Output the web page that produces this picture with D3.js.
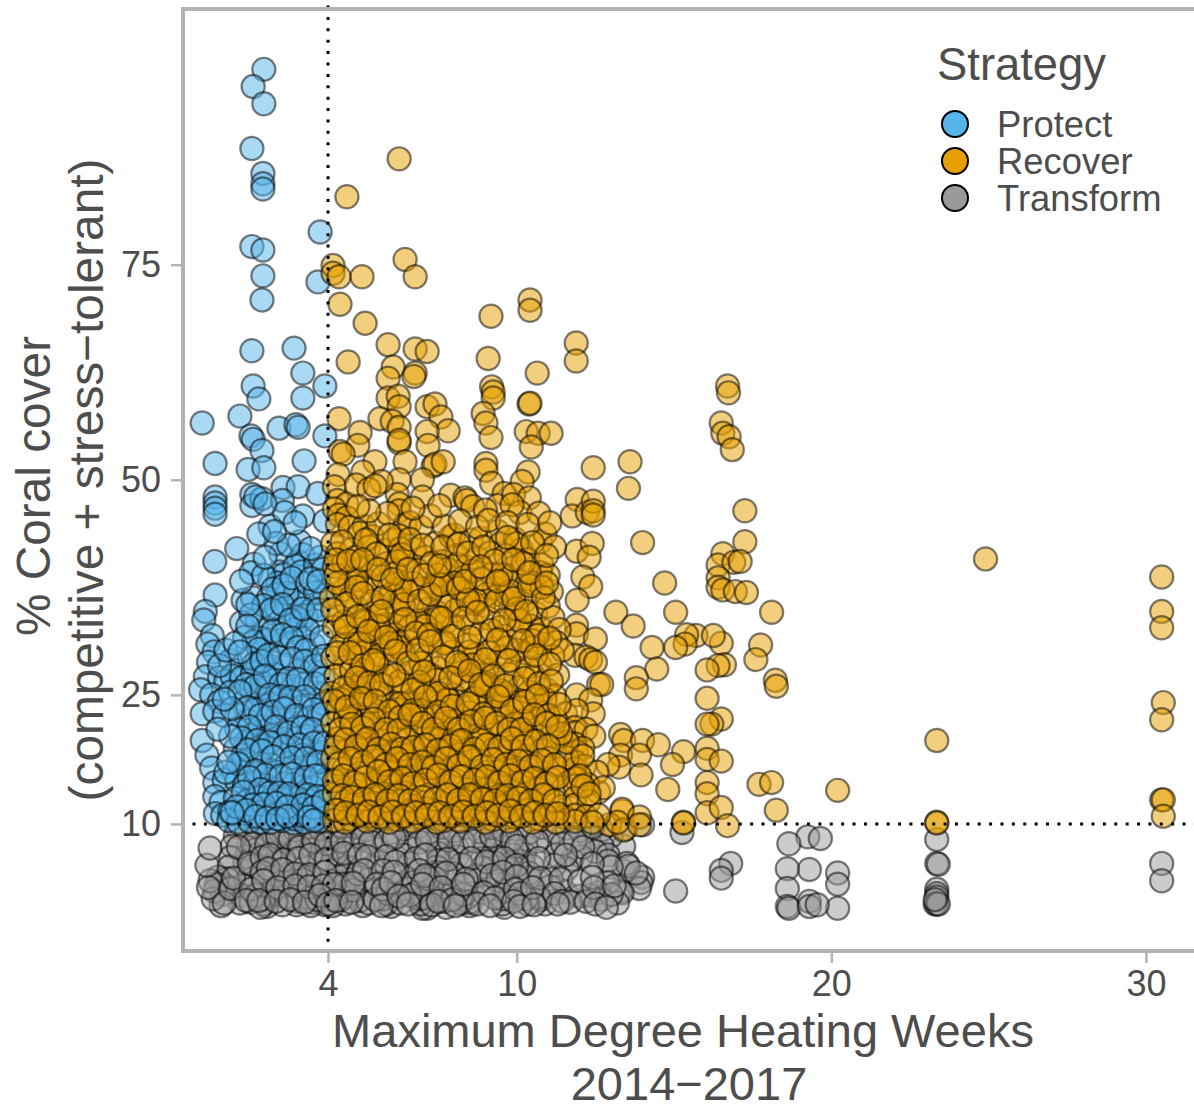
<!DOCTYPE html>
<html>
<head>
<meta charset="utf-8">
<script src="https://cdn.jsdelivr.net/npm/d3@7"></script>
<style>
  html, body { margin: 0; padding: 0; background: #fff; }
  svg { display: block; }
  text { font-family: "Liberation Sans", Arial, sans-serif; fill: #4d4d4d; }
</style>
</head>
<body>
<div id="chart"></div>
<script>
// DATA, [max DHW, % coral cover]
var strategies = ["Protect", "Recover", "Transform"];
var xTicks = [4, 10, 20, 30];
var yTicks = [10, 25, 50, 75];

var protect = [
[1.96,97.7],[1.62,95.7],[1.96,93.7],[1.58,88.5],[1.93,85.6],[1.93,84.4],[1.93,83.8],[3.75,78.8],[1.58,77.1],[1.93,76.7],[1.93,73.7],[1.9,70.9],[3.68,73.0],
[1.58,65.0],[2.92,65.3],[3.2,62.4],[1.62,60.9],[3.9,60.9],[1.8,59.4],[3.2,59.5],[1.2,57.4],[0.0,56.6],[2.44,56.0],[2.98,56.4],[3.05,56.1],[1.55,55.1],[1.62,54.7],[1.9,53.4],[3.9,55.1],
[0.41,51.9],[1.46,51.2],[1.96,51.4],[3.24,52.2],[0.41,48.0],[0.41,47.3],[0.41,46.7],[0.41,46.0],[2.57,49.1],[3.05,49.2],[3.68,48.4],[1.58,48.3],[1.58,47.0],[1.9,47.8],[2.16,44.6],[2.55,47.6],[2.62,46.2],[3.2,45.8],[3.9,45.2],[1.7,48.0],[2.0,47.2],
[0.4,40.5],[1.1,42.0],[2.5,41.4],[3.05,40.5],[1.65,40.2],[1.55,39.2],[2.15,38.4],[2.45,39.3],[2.6,39.0],[3.1,42.8],[3.2,41.3],[2.95,40.0],[3.15,39.3],
[0.41,36.6],[1.3,36.0],[1.6,36.3],[2.4,38.0],[2.4,36.7],[2.1,36.2],[2.75,34.8],[3.3,36.1],[3.85,37.1],[3.9,36.6],[3.1,35.8],[2.95,36.7],[3.5,35.0],[0.1,34.7],[0.05,33.7],[1.25,33.4],[1.75,33.6],[2.3,34.4],[2.6,33.3],[3.15,33.7],[3.3,34.2],
[0.32,31.9],[0.18,30.9],[0.38,30.0],[0.2,28.8],[0.9,29.0],[1.1,27.8],[0.1,27.1],[0.55,27.0],[0.75,26.6],[0.95,27.2],[1.25,27.0],[1.75,29.0],[1.85,29.8],[1.95,28.3],[2.4,31.3],[2.7,30.8],[2.95,32.6],[3.2,31.6],[3.55,30.8],[3.45,29.0],[2.2,28.3],[2.65,28.5],[3.1,27.8],[3.7,27.6],[1.6,27.5],[2.2,26.7],[2.9,26.0],
[-0.05,25.6],[0.3,25.0],[0.55,24.2],[0.9,25.3],[1.35,24.3],[1.55,25.7],[1.8,25.0],[2.05,25.8],[2.2,24.8],[3.0,25.7],[3.5,24.5],[3.75,25.2],[1.95,23.8],[2.4,24.0],[3.15,23.6],[0.0,22.8],[0.4,23.1],[0.7,22.6],[1.2,22.6],[1.45,22.0],[1.7,23.3],[2.55,22.0],[2.85,21.7],[3.4,22.4],[3.65,22.2],
[1.1,21.0],[1.65,20.4],[1.85,21.3],[2.1,20.9],[2.25,20.2],[2.6,19.9],[3.05,20.0],[3.35,20.2],[3.85,20.2],[1.4,19.5],[2.0,19.1],[2.9,18.8],[0.0,19.7],[0.15,18.0],[0.3,16.5],[1.05,18.7],[1.6,18.3],[2.45,18.2],[3.2,18.0],[3.6,18.1],[3.85,18.3],
[1.3,17.2],[1.55,16.4],[1.85,17.0],[2.15,16.3],[2.7,17.0],[3.05,16.2],[3.45,16.6],[3.8,15.6],[3.9,15.1],[1.0,15.9],[2.35,16.0],[0.4,14.8],[0.7,15.1],[1.1,15.0],[1.35,14.6],[1.7,14.8],[2.0,14.5],[2.3,14.0],[2.6,14.7],[2.9,14.6],[3.2,14.3],[3.55,14.2],[3.8,14.8],
[0.4,13.2],[0.6,12.5],[1.05,13.0],[1.45,12.7],[1.75,13.1],[2.15,12.7],[2.55,12.9],[3.05,13.0],[3.45,12.6],[3.75,12.4],[0.42,11.2],[0.65,11.0],[0.88,11.4],[1.25,11.2],[1.55,11.0],[1.9,11.4],[2.2,11.0],[2.5,11.3],[2.85,11.1],[3.0,11.4],[3.3,11.2],[3.6,11.0],[3.85,11.3],
[0.85,10.4],[1.15,10.2],[1.5,10.3],[1.85,10.2],[2.2,10.2],[2.55,10.4],[2.9,10.1],[2.95,10.6],[3.25,10.2],[3.7,10.3],[3.0,11.9],[3.1,11.0],[1.3,18.0],[2.35,19.4],[2.75,23.6],[2.1,22.4],[1.9,26.4],[2.3,27.4],[3.3,26.4],[2.0,32.6],[2.1,31.4],[1.85,31.6],[2.7,36.8],[2.35,35.2],[3.6,33.6],[3.0,34.0],[3.35,32.6],
// second pass, the crowded middle
[1.95,38.9],[2.25,37.3],[2.6,37.7],[2.85,38.6],[3.35,38.0],[3.6,36.9],[1.95,35.4],[2.2,34.9],[2.55,35.5],[2.8,33.7],[3.2,35.0],[3.7,34.9],[1.55,34.3],[1.35,31.7],[1.65,31.2],[1.8,30.3],[2.25,32.4],[2.55,32.0],[2.85,31.6],[3.05,30.5],[3.3,30.2],[3.8,31.7],[1.5,29.3],[1.65,28.6],[1.9,28.9],[2.1,29.6],[2.45,29.3],[2.85,29.2],[3.25,28.9],[3.6,28.4],[3.85,29.5],[1.4,26.2],[1.7,26.0],[2.0,27.2],[2.5,26.2],[2.75,26.9],[3.05,26.8],[3.6,26.3],[3.85,26.9],[1.2,25.4],[2.15,25.0],[2.5,24.8],[2.8,24.7],[3.25,24.8],[3.85,24.0],[1.45,23.5],[1.85,22.6],[2.25,23.0],[2.6,23.4],[3.0,22.6],[3.55,23.3],[3.85,22.8],[1.5,21.3],[2.35,21.3],[2.75,20.6],[3.2,21.2],[3.5,21.0],[1.25,20.0],[1.75,19.7],[2.15,19.5],[2.6,19.0],[3.1,19.2],[3.55,19.4],[3.9,19.4],[1.45,18.6],[1.9,18.5],[2.25,17.8],[2.85,17.7],[3.3,17.6],[3.7,17.2],[1.15,17.0],[1.7,16.2],[2.0,15.7],[2.5,15.6],[2.85,15.8],[3.3,15.4],[3.6,15.6],[1.5,15.4],[1.85,14.0],[2.15,13.6],[2.45,13.6],[2.75,13.5],[3.35,13.4],[3.65,13.2],[1.3,13.7],[1.6,12.2],[1.95,12.3],[2.35,12.4],[2.7,12.0],[3.2,12.2],[3.55,11.9],[3.85,12.6],[1.1,12.0],[1.4,11.6],[1.7,10.9],[2.05,10.7],[2.4,10.6],[2.7,10.9],[3.4,10.8],[3.55,10.4],[0.95,11.3],[0.75,16.0],[0.85,17.2],[0.9,20.2],[0.95,23.4],[0.7,24.5],[0.5,21.0],[0.55,28.4],[0.75,30.2],[1.05,31.0],[1.2,30.0],[1.45,35.5],[1.25,38.2],[1.45,33.0],[3.6,40.1],[3.75,41.0],[3.85,39.6],[3.45,38.5],[3.7,38.2],[2.35,42.6],[2.0,41.0],[2.75,42.4],[1.8,43.7],[2.3,44.0],[2.95,45.0],[3.45,42.0]
];

var recover = [
// above the dense block
[6.26,87.3],[4.6,82.9],[4.16,74.9],[4.16,74.0],[4.35,73.6],[5.08,73.6],[6.45,75.6],[6.77,73.6],[4.38,70.4],[5.18,68.2],[5.91,65.7],[4.64,63.7],[6.77,65.2],[7.15,64.9],[6.07,63.1],[6.77,62.4],[6.73,62.0],[5.91,61.8],[9.09,64.1],[10.65,62.4],[11.89,65.9],[11.89,63.8],[9.18,69.0],[10.42,70.9],[10.42,69.7],
[9.2,60.8],[9.25,60.2],[9.25,59.5],[10.39,58.8],[10.42,58.9],[5.91,59.5],[6.23,59.7],[6.26,58.5],[7.15,58.5],[7.4,58.8],[7.59,57.3],[7.82,55.7],[5.65,57.1],[6.04,56.8],[6.26,56.1],[6.26,54.3],[6.26,54.6],[7.15,55.6],[7.18,54.0],[8.93,57.7],[9.02,56.6],[9.18,54.9],[10.3,55.6],[10.68,55.4],[11.09,55.4],[10.46,53.8],[4.35,57.1],[5.02,55.5],[4.95,54.0],[4.38,53.3],[4.48,53.0],[6.45,52.1],[5.49,52.1],[5.11,50.9],[4.32,50.6],[7.34,51.6],[7.4,51.8],[7.66,52.1],[9.02,51.9],[9.02,51.1],[10.36,50.9],[10.17,49.8],[12.43,51.4],
// 40 to 50 percent
[6.26,50.0],[6.2,48.3],[6.26,47.2],[6.26,46.4],[5.7,49.8],[7.0,50.0],[7.0,48.0],[4.2,49.2],[4.3,47.6],[4.6,47.2],[4.2,46.6],[4.9,49.4],[5.3,48.9],[5.5,49.3],[7.9,48.2],[8.35,47.9],[8.4,47.6],[8.6,46.9],[9.2,49.6],[9.6,48.4],[9.4,47.0],[9.0,46.5],[9.9,48.3],[10.4,47.9],[10.1,46.2],[9.85,47.1],[10.7,46.1],[4.35,45.9],[4.6,45.6],[4.3,44.8],[4.7,44.5],[5.15,44.6],[5.0,43.8],[5.4,43.4],[5.6,44.9],[6.45,44.8],[6.6,45.0],[6.95,44.5],[7.4,42.6],[7.9,43.4],[8.0,43.6],[8.55,43.0],[8.85,43.2],[9.4,44.0],[9.5,42.6],[9.95,43.1],[10.15,41.9],[10.0,42.6],[10.75,42.8],[10.9,43.7],[4.15,42.6],[4.3,41.4],[4.75,41.9],[5.3,42.2],[5.85,41.8],[6.1,43.0],[6.45,40.8],[6.75,41.9],[7.1,41.0],[7.65,40.5],[8.1,41.2],[8.4,39.8],[8.75,40.9],[9.15,41.5],[9.65,41.2],[9.9,39.8],[10.35,40.7],[10.8,40.1],[11.9,41.7],[12.4,42.6],[12.3,41.0],
[7.25,45.8],[7.7,44.6],[8.2,45.2],[8.75,44.5],[9.1,45.3],[9.7,45.0],[10.35,44.8],[5.9,46.1],[5.3,46.4],[4.95,46.9],[7.55,47.0],[6.7,46.7],[11.05,45.0],[11.2,42.2],
// right of the block
[11.92,47.7],[11.76,45.8],[12.24,46.2],[12.43,47.5],[12.43,46.4],[12.43,45.9],[13.6,52.1],[13.55,49.0],[16.7,60.9],[16.73,60.1],[16.5,56.6],[16.55,55.4],[16.75,55.0],[16.85,53.5],[17.25,46.4],[14.0,42.7],[17.25,42.8],[16.55,41.4],[16.4,40.1],[16.9,40.4],[17.1,40.5],[16.4,38.6],[16.4,37.5],[16.55,37.2],[16.95,37.0],[17.3,36.9],[14.7,38.0],[12.1,38.7],[12.35,37.6],[11.92,36.0],[13.15,34.6],[13.7,33.0],[15.05,34.6],[15.7,31.9],[15.4,32.0],[15.35,30.9],[15.05,30.5],[14.3,30.5],[16.5,31.0],[16.25,31.9],[18.1,34.6],[17.75,30.8],[17.6,29.1],[14.45,28.0],[13.8,27.0],[13.8,25.7],[16.6,28.5],[16.4,28.4],[16.05,27.9],[11.9,33.1],[11.9,32.1],[12.5,31.5],[11.85,29.6],[12.2,29.4],[12.35,29.1],[12.5,28.8],[18.22,26.7],[18.25,26.0],[16.05,24.6],[12.6,26.2],[12.7,26.2],[11.9,25.0],[12.35,24.4],[16.5,22.2],[16.2,21.6],[16.05,21.6],[12.43,22.8],[13.3,20.4],[13.4,19.7],[14.0,19.7],[14.5,19.2],[15.3,18.4],[14.95,16.9],[16.05,18.8],[16.05,17.5],[16.5,17.3],[13.3,18.0],[13.25,16.6],[13.9,18.0],[13.95,15.7],[12.9,16.9],[14.8,14.0],[17.7,14.6],[18.1,14.8],[18.25,11.6],[16.05,14.8],[16.05,13.5],[16.05,11.3],[16.5,11.9],[16.7,9.8],[15.3,10.2],[15.3,10.1],[20.2,13.9],[13.35,11.5],[13.35,11.7],[12.95,9.9],[13.4,9.3],[12.6,13.7],[13.9,10.8],[13.9,9.9],[13.2,10.2],
// far right
[24.9,40.8],[30.5,38.7],[30.5,34.7],[30.5,32.8],[30.55,24.1],[30.5,22.1],[30.5,12.8],[30.55,12.8],[30.55,10.9],[23.35,19.7],[23.35,10.2],[23.35,10.1],
// dense block, 30 to 40 percent
[4.2,39.9],[4.7,38.1],[5.0,39.6],[5.55,37.6],[5.9,40.3],[6.3,38.0],[6.3,37.5],[6.26,37.2],[6.85,39.5],[7.35,37.7],[7.8,39.6],[7.9,37.9],[8.3,38.6],[8.75,37.3],[9.2,39.0],[9.5,36.6],[10.0,38.3],[10.3,36.9],[10.75,39.2],[11.1,37.0],[4.1,36.3],[4.5,37.2],[4.9,35.2],[5.25,38.2],[5.6,35.4],[6.0,36.7],[6.65,35.3],[7.0,37.3],[7.2,35.0],[7.65,36.3],[8.05,34.8],[8.4,37.0],[8.95,35.4],[9.3,37.4],[9.8,35.0],[10.25,35.9],[10.6,34.5],[11.0,35.3],[4.35,34.1],[4.75,36.4],[5.15,33.7],[5.4,35.9],[5.85,33.2],[6.2,34.8],[6.3,33.6],[6.6,32.9],[7.1,33.7],[7.45,34.6],[7.75,33.4],[8.25,35.5],[8.6,33.2],[9.1,33.9],[9.45,32.8],[9.95,34.1],[10.45,33.0],[10.8,32.6],[11.15,34.0],[11.35,32.6],[4.2,32.9],[4.6,31.6],[5.0,32.6],[5.35,31.3],[5.75,30.6],[6.1,32.0],[6.25,31.1],[6.25,30.9],[6.55,31.7],[6.95,30.5],[7.3,32.4],[7.7,31.2],[8.0,32.9],[8.45,30.8],[8.85,32.1],[9.25,30.4],[9.6,31.8],[10.05,32.5],[10.5,31.3],[10.85,30.9],[11.25,31.1],[4.4,30.7],[4.85,30.9],[5.2,30.0],[5.5,32.7],[6.35,36.1],[7.5,38.9],[8.1,40.2],[8.6,39.4],[9.65,38.9],[10.5,38.0],[11.0,38.9],[4.5,40.3],[5.35,39.9],[6.7,38.0],[4.9,38.4],[5.75,38.7],[9.05,36.7],[7.85,35.3],[6.85,33.6],[5.55,34.2],[10.1,33.6],[8.65,35.6],[9.7,36.7],
// 20 to 30 percent
[4.15,29.3],[4.55,28.2],[4.95,29.4],[5.3,27.7],[5.65,29.6],[6.0,28.4],[6.4,29.8],[6.8,27.8],[7.15,29.5],[7.5,28.1],[7.95,30.0],[8.35,28.4],[8.7,29.7],[9.15,27.9],[9.5,29.4],[9.95,28.2],[10.3,29.9],[10.75,28.4],[11.15,29.5],[11.45,30.2],[4.25,27.2],[4.7,26.2],[5.05,27.9],[5.45,26.0],[5.85,27.2],[6.25,25.7],[6.6,27.6],[7.0,26.0],[7.35,27.2],[7.75,25.6],[8.15,27.5],[8.55,26.2],[8.95,27.3],[9.35,25.8],[9.75,27.4],[10.1,25.9],[10.55,27.1],[10.95,25.6],[11.3,27.3],[4.1,25.2],[4.45,24.4],[4.85,25.9],[5.2,24.1],[5.6,25.2],[6.05,24.0],[6.4,25.0],[6.85,24.3],[7.2,25.4],[7.6,23.9],[8.0,25.0],[8.35,23.6],[8.8,25.3],[9.15,24.2],[9.45,25.1],[9.6,25.2],[10.0,24.1],[10.4,25.3],[10.75,23.8],[11.2,24.9],[4.3,23.2],[4.65,24.9],[5.0,22.7],[5.4,23.4],[5.8,22.3],[6.2,23.3],[6.55,22.1],[6.95,23.2],[7.35,22.4],[7.7,23.5],[8.1,22.0],[8.5,22.9],[8.9,21.8],[9.3,23.0],[9.7,22.4],[10.1,23.5],[10.5,22.0],[10.85,22.9],[11.2,22.3],[11.55,22.8],[11.9,23.2],[4.15,21.7],[4.55,22.3],[4.85,20.9],[5.25,21.6],[5.6,20.5],[6.0,21.7],[6.4,20.7],[6.8,21.2],[7.15,20.3],[7.55,21.6],[7.9,20.5],[8.3,21.4],[8.7,20.2],[9.1,21.3],[9.5,20.4],[9.9,21.6],[10.3,20.5],[10.7,21.2],[11.1,20.2],[11.85,21.2],[11.85,20.6],[12.2,21.0],[12.45,20.2],[5.55,28.6],[6.95,28.7],[8.25,26.8],[9.05,26.3],[7.85,24.4],[9.55,23.8],[6.3,26.6],[4.75,27.8],[10.35,28.2],[7.45,26.7],[5.2,25.0],[10.0,30.2],[6.5,23.9],[8.65,24.6],
// 10 to 20 percent
[4.3,19.9],[4.65,18.7],[5.05,20.2],[5.4,18.5],[5.8,19.6],[6.15,18.3],[6.55,19.8],[6.95,18.7],[7.3,19.9],[7.7,18.5],[8.1,19.6],[8.45,18.2],[8.85,19.9],[9.25,18.6],[9.65,19.5],[10.05,18.2],[10.4,19.8],[10.8,18.5],[11.2,19.5],[11.85,19.3],[11.9,18.4],[12.1,18.8],[4.15,17.7],[4.5,16.4],[4.9,18.2],[5.25,16.7],[5.65,17.4],[6.0,16.2],[6.4,17.9],[6.8,16.4],[7.15,17.6],[7.55,16.2],[7.95,17.8],[8.3,16.5],[8.7,17.4],[9.05,16.0],[9.45,17.6],[9.85,16.3],[10.25,17.2],[10.6,16.6],[11.0,17.6],[11.35,16.4],[11.85,17.2],[11.85,16.4],[12.15,16.7],[12.55,16.0],[4.3,15.2],[4.65,14.3],[5.0,15.9],[5.4,14.1],[5.8,15.4],[6.15,14.6],[6.55,15.6],[6.9,14.2],[7.3,15.8],[7.7,14.4],[8.05,15.1],[8.45,14.0],[8.85,15.6],[9.2,14.5],[9.6,15.3],[10.0,13.9],[10.4,15.5],[10.75,14.3],[11.1,15.2],[11.5,14.2],[11.85,15.3],[11.85,14.4],[12.25,14.6],[12.75,14.2],[4.2,13.5],[4.55,12.6],[4.95,13.8],[5.3,12.3],[5.7,13.2],[6.05,12.4],[6.45,13.6],[6.8,12.1],[7.2,13.4],[7.6,12.5],[7.95,13.0],[8.35,12.1],[8.7,13.5],[9.1,12.4],[9.5,13.3],[9.9,12.1],[10.25,13.4],[10.65,12.3],[11.0,13.2],[11.4,12.0],[11.85,13.0],[11.85,12.2],[12.3,12.6],[4.35,11.6],[4.7,10.6],[5.1,11.3],[5.45,10.9],[5.85,11.7],[6.2,10.5],[6.6,11.5],[6.95,10.8],[7.35,11.6],[7.7,10.4],[8.1,11.1],[8.45,10.9],[8.85,11.6],[9.25,10.5],[9.6,11.3],[9.95,10.8],[10.35,11.6],[10.75,10.5],[11.1,11.2],[11.5,10.8],[11.85,11.0],[12.2,10.9],[12.6,11.0],[4.2,10.4],[4.55,10.2],[5.25,10.3],[5.95,10.2],[6.7,10.3],[7.45,10.2],[8.2,10.3],[9.0,10.2],[9.75,10.3],[10.5,10.2],[11.25,10.2],[11.85,10.3],[12.4,10.2],[5.6,15.0],[7.45,17.2],[9.25,13.5],[4.85,12.3],[6.3,17.0],[8.55,13.0],[10.15,16.1],[7.1,11.8],[5.15,19.3],[9.8,18.9],[6.05,13.2],[8.2,18.1],[11.6,17.7],[11.6,19.5],[12.1,17.9],[12.0,15.6],[12.1,14.4],[12.3,13.5],
// extra heavy spots
[6.26,43.5],[6.3,42.0],[6.2,40.5],[4.3,38.0],[7.5,34.0],[5.6,33.0],[6.28,30.5],[6.0,31.0],[5.0,31.0],[4.5,33.5],[9.8,37.0],[10.5,30.5],[8.5,30.0],[8.6,28.5],[9.0,26.0],[9.5,25.5],[8.0,22.0],[8.9,20.0],[7.6,20.0],[6.3,24.0],[5.1,26.5],[5.7,20.5],[6.5,18.0],[4.7,22.5],[4.4,24.5],[10.2,22.0],[10.9,24.5],[11.4,20.5],[9.4,16.0],[9.0,14.0],[7.2,16.5],[6.0,16.0],[5.0,14.5],[8.2,12.0],[9.6,12.0],[10.7,14.0],[7.0,22.5],[7.8,24.5],[6.9,26.5],[8.2,28.5],[9.7,30.5],[7.1,33.0],[6.4,35.5],[5.2,33.5],[4.9,37.5],[10.0,35.0],[10.8,37.5],[8.0,38.0],[7.4,37.5],[9.5,39.0],[8.7,36.0],[9.1,30.0],[7.7,31.0],
// the block is nearly solid, fill what is left
[4.25,38.9],[4.6,35.6],[5.1,36.8],[5.75,36.3],[6.15,39.1],[6.5,37.1],[6.9,35.9],[7.25,36.7],[7.6,37.8],[8.15,37.4],[8.45,36.0],[8.9,38.5],[9.35,35.9],[9.9,36.2],[10.4,37.7],[10.85,36.3],[4.15,34.9],[4.55,32.9],[4.95,34.1],[5.3,32.4],[5.7,34.7],[6.45,33.8],[6.8,32.2],[7.2,32.0],[7.6,33.9],[7.95,31.8],[8.3,33.9],[8.75,34.6],[9.2,32.5],[9.6,33.7],[10.3,34.7],[10.65,31.9],[11.05,31.6],[4.3,29.9],[4.7,29.9],[5.1,28.4],[5.45,29.0],[5.85,31.7],[6.15,30.1],[6.55,28.7],[6.85,30.2],[7.25,31.2],[7.65,29.4],[8.1,28.8],[8.5,31.7],[9.0,29.1],[9.4,31.4],[9.75,29.0],[10.2,31.3],[10.6,29.6],[11.05,28.6],[4.5,25.8],[4.9,27.0],[5.3,26.4],[5.7,26.2],[6.1,27.3],[6.7,25.6],[7.05,27.7],[7.5,25.2],[7.9,27.0],[8.5,27.8],[8.85,26.2],[9.25,27.2],[9.65,26.1],[10.25,26.9],[10.7,26.3],[11.1,26.6],[4.2,24.3],[4.6,23.6],[5.05,24.6],[5.5,24.3],[5.95,23.1],[6.3,22.4],[6.7,23.2],[7.1,24.8],[7.5,23.0],[7.95,23.7],[8.45,24.0],[8.95,22.8],[9.4,24.8],[9.85,23.2],[10.25,24.2],[10.65,24.9],[11.0,22.6],[11.35,23.9],[4.4,21.0],[4.75,21.6],[5.1,21.2],[5.45,22.2],[5.85,21.0],[6.25,20.9],[6.6,22.7],[7.0,21.7],[7.35,21.0],[7.75,22.3],[8.15,21.0],[8.55,21.9],[9.0,22.3],[9.35,21.7],[9.75,21.0],[10.15,21.0],[10.55,22.7],[10.95,21.7],[11.3,21.3],[4.25,18.9],[4.55,19.8],[4.9,19.0],[5.25,19.9],[5.6,18.7],[6.0,19.3],[6.35,18.7],[6.7,18.9],[7.1,19.2],[7.5,18.6],[7.9,19.1],[8.25,19.7],[8.65,18.7],[9.05,19.2],[9.45,18.9],[9.85,19.9],[10.2,19.0],[10.6,19.6],[11.0,19.1],[4.35,17.0],[4.7,17.6],[5.1,17.2],[5.45,17.8],[5.85,16.9],[6.2,17.6],[6.6,16.9],[7.0,17.2],[7.35,16.6],[7.75,17.6],[8.15,16.8],[8.5,17.8],[8.9,16.7],[9.25,17.5],[9.65,16.9],[10.05,17.3],[10.45,16.7],[10.8,17.4],[11.2,16.9],[4.2,15.0],[4.5,15.6],[4.85,14.8],[5.2,15.4],[5.6,16.1],[5.95,14.9],[6.35,15.3],[6.7,14.7],[7.1,15.1],[7.5,15.7],[7.9,14.9],[8.25,15.5],[8.65,15.1],[9.05,15.5],[9.45,14.8],[9.8,15.6],[10.2,14.9],[10.55,15.3],[10.95,14.7],[11.3,15.4],[4.45,13.3],[4.75,13.1],[5.15,12.9],[5.5,13.4],[5.9,12.7],[6.25,13.3],[6.6,12.7],[7.0,13.1],[7.4,12.9],[7.8,13.4],[8.15,12.8],[8.5,13.4],[8.9,12.9],[9.3,12.7],[9.7,13.3],[10.05,13.0],[10.45,12.7],[10.85,13.4],[11.2,12.7],[4.25,11.6],[4.55,11.3],[4.95,11.0],[5.3,11.4],[5.65,10.8],[6.05,11.4],[6.4,10.9],[6.8,11.3],[7.15,11.0],[7.55,11.3],[7.9,10.9],[8.3,11.4],[8.65,10.9],[9.05,11.3],[9.4,11.0],[9.8,11.5],[10.15,10.9],[10.55,11.3],[10.9,11.0],[11.3,11.2],
// upper edge of the block
[4.45,42.8],[4.9,41.0],[5.2,43.0],[5.55,41.4],[5.95,43.6],[6.35,41.3],[6.6,43.1],[7.0,42.4],[7.3,40.3],[7.65,42.2],[8.15,42.5],[8.45,41.5],[8.95,42.2],[9.3,40.6],[9.7,43.3],[10.2,40.3],[10.5,42.7],[10.95,41.2],[4.25,40.7],[4.65,40.6],[5.1,40.7],[5.6,39.6],[6.05,38.4],[6.55,39.6],[7.05,38.9],[7.55,40.0],[8.35,38.2],[8.85,39.9],[9.4,38.2],[9.9,40.7],[10.4,39.2],[10.95,38.0]
];

var transform = [
// far right
[30.5,5.4],[30.5,3.4],[23.35,8.2],[23.35,5.4],[23.4,5.3],[23.35,2.4],[23.35,1.9],[23.35,1.5],[23.3,0.7],[23.35,0.7],[23.4,0.7],[23.3,1.2],
[20.2,4.3],[20.2,3.0],[20.2,0.2],[19.25,8.5],[19.65,8.3],[19.3,4.7],[18.65,7.7],[18.6,4.8],[18.6,2.5],[18.6,0.4],[18.65,0.2],[19.3,1.0],[19.3,0.4],[19.55,0.6],[16.8,5.4],[16.5,4.6],[16.5,3.7],[15.25,9.0],[15.05,2.2],[14.0,9.9],[14.0,3.8],[13.95,3.2],[13.9,2.5],[13.4,7.4],[13.4,4.5],[13.0,8.6],[13.3,2.2],[13.35,2.0],
// 10 to 13 DHW
[12.3,8.3],[12.7,9.3],[12.7,7.5],[12.5,6.8],[12.9,6.4],[12.9,5.7],[13.5,5.4],[13.55,5.1],[13.8,4.3],[13.0,5.0],[12.9,3.2],[12.6,2.0],[12.3,1.7],[12.7,1.2],[13.2,0.8],[13.0,1.8],[12.05,6.2],[11.75,5.9],[11.6,4.8],[11.55,2.1],[12.0,1.6],[11.0,7.9],[11.25,6.4],[11.2,5.2],[11.1,3.6],[11.05,2.7],[10.9,0.7],[10.75,1.2],[10.7,1.5],[10.3,7.3],[10.25,6.5],[10.2,5.6],[10.5,5.1],[10.4,3.8],[10.4,4.3],[10.35,0.7],[10.3,1.3],[9.85,6.4],[9.8,5.4],[9.75,4.8],[9.7,3.2],[9.6,0.3],[9.55,0.7],[9.55,1.3],[9.45,8.8],[9.4,7.6],[9.3,6.2],[9.3,5.5],
[8.95,8.0],[9.0,7.4],[8.9,6.0],[8.9,4.9],[8.8,3.9],[8.6,1.9],[8.5,0.5],[8.5,0.9],[8.45,1.5],[8.1,7.2],[8.1,6.2],[8.25,5.3],[8.0,4.2],[8.0,3.3],[8.0,2.2],[7.75,0.3],[7.7,1.0],[7.65,1.7],[7.5,7.4],[7.5,8.4],[7.5,6.6],[7.5,5.7],[7.45,5.0],[7.45,4.4],[7.4,3.7],[7.3,2.7],[7.25,1.7],[7.15,0.2],[7.0,0.2],[6.95,0.7],[6.9,1.3],[6.6,8.2],[6.55,7.3],[6.4,6.4],[6.6,5.4],[6.4,4.0],[6.2,2.9],[6.1,1.8],[6.0,0.4],[5.85,0.7],[5.75,1.3],[5.55,7.5],[5.6,5.8],[5.4,5.0],[5.3,3.5],[5.2,2.4],[5.1,0.5],[5.0,1.1],
[4.85,8.6],[4.8,7.5],[4.7,6.2],[4.7,4.9],[4.65,3.5],[4.6,1.5],[4.55,0.7],[4.4,1.2],[4.35,2.0],[4.35,3.8],[4.3,5.3],[4.25,6.5],[4.2,7.2],[4.15,8.3],[4.1,9.2],[4.05,3.4],[4.0,2.2],[3.95,1.2],[3.9,0.6],[3.8,6.9],[3.75,8.2],[3.7,5.6],[3.65,3.6],[3.6,2.2],[3.5,0.9],[3.35,7.6],[3.3,8.5],[3.25,5.0],[3.2,3.5],[3.15,2.0],[3.0,1.0],[3.0,0.6],[2.9,8.3],[2.85,7.1],[2.8,4.2],[2.75,3.3],[2.65,1.5],[2.55,0.6],[2.45,7.9],[2.4,6.6],[2.35,5.6],[2.3,4.0],[2.2,2.2],[2.15,1.6],[2.05,0.4],[1.95,0.7],[1.95,1.3],[1.9,2.7],
[1.75,8.1],[1.7,6.4],[1.65,5.2],[1.6,3.6],[1.45,7.2],[1.4,6.2],[1.35,5.6],[1.3,2.8],[1.25,1.7],[1.2,0.8],[1.1,9.6],[1.05,8.6],[0.95,7.4],[0.9,6.1],[0.85,5.0],[0.8,3.6],[0.7,2.9],[0.65,1.8],[0.6,0.5],[0.5,3.8],[0.45,3.0],[0.4,2.2],[0.35,1.3],[0.25,3.4],[0.2,2.6],[0.15,5.2],[0.25,7.2],[0.7,0.8],[0.9,2.5],[1.0,3.7],[1.55,0.9],[1.7,1.7],[1.85,0.3],[2.55,3.3],[3.1,2.4],[3.4,1.4],[3.45,0.5],[3.65,1.2],[4.15,0.5],[4.5,3.0],[4.8,2.3],[5.3,0.8],[5.5,1.2],[5.9,1.9],[6.3,0.8],[6.5,2.5],[6.7,3.2],[6.8,2.0],[7.05,1.4],[7.2,3.6],[8.2,0.8],[8.3,1.8],[8.7,4.0],[9.1,2.4],[9.4,3.4],[9.6,2.2],
// upper band and gaps
[1.4,9.4],[1.75,9.7],[2.1,9.2],[2.5,9.0],[2.95,9.3],[3.35,9.6],[3.75,9.4],[4.45,9.7],[4.85,9.6],[5.2,9.3],[5.6,9.7],[6.0,9.0],[6.4,9.4],[6.85,9.6],[7.2,9.0],[7.6,9.6],[8.0,9.2],[8.4,9.6],[8.8,9.1],[9.2,9.6],[9.6,9.2],[10.0,9.4],[10.4,9.0],[10.8,9.6],[11.2,9.1],[11.6,9.5],[12.0,9.2],[12.4,9.6],[13.45,9.4],[1.6,7.7],[2.05,7.6],[2.4,8.5],[2.8,8.3],[3.1,7.3],[3.55,8.0],[3.95,7.7],[4.45,8.0],[5.1,8.3],[5.35,7.9],[5.85,8.0],[6.1,8.4],[6.9,7.9],[7.15,8.2],[7.85,8.1],[8.3,7.9],[8.65,8.0],[9.2,8.6],[9.85,8.2],[10.0,7.4],[10.65,8.0],[11.45,7.7],[11.85,8.1],[12.1,7.3],[1.15,7.3],[1.5,5.4],[1.9,6.1],[2.15,6.4],[2.6,5.8],[3.05,6.0],[3.45,6.4],[3.95,5.9],[4.5,6.6],[5.0,6.4],[5.25,6.2],[5.85,6.2],[6.15,5.6],[6.8,6.0],[7.1,6.4],[7.8,5.9],[8.55,6.0],[9.05,5.6],[9.6,6.0],[10.0,5.2],[10.7,6.0],[11.55,6.4],[12.4,5.4],[1.9,4.4],[2.1,4.8],[2.55,4.7],[2.95,4.2],[3.4,4.1],[3.9,4.4],[4.95,4.2],[5.15,4.6],[5.75,4.6],[6.1,4.4],[6.9,4.6],[7.1,4.0],[7.75,4.3],[8.4,3.6],[9.2,4.0],[9.55,4.4],[10.0,3.9],[10.75,3.7],[11.4,3.6],[12.0,3.3],[12.4,3.8],[1.55,2.4],[1.95,3.4],[2.4,2.6],[2.95,2.8],[3.4,2.7],[3.85,2.8],[4.2,3.0],[4.8,3.1],[5.55,3.0],[5.75,2.4],[6.0,3.2],[6.6,1.7],[7.0,3.0],[7.6,2.6],[7.95,1.2],[8.3,3.0],[8.95,2.0],[9.3,1.4],[9.95,2.4],[10.1,1.9],[10.5,2.6],[11.2,1.9],[11.45,1.0],[11.7,0.9],[12.2,1.0],[12.45,2.6],[13.1,2.8],[1.4,1.1],[1.8,1.1],[2.35,1.0],[2.8,1.2],[3.25,0.9],[3.75,1.7],[4.0,0.7],[4.25,1.1],[4.75,0.9],[5.7,0.5],[6.25,1.6],[6.55,0.7],[7.3,0.6],[7.5,1.0],[8.05,0.5],[8.75,0.7],[9.15,0.5],[9.9,1.0],[10.1,0.4],[10.55,0.6],[11.3,0.7],[12.5,0.7],[12.85,0.3]
];

// CHART
var width = 1194;
var height = 1110;
var colors = {"Protect": "#56B4E9", "Recover": "#E69F00", "Transform": "#999999"};

var xScale = d3.scaleLinear().domain([-0.61, 31.4]).range([183, 1190]);
var yScale = d3.scaleLinear().domain([-4.77, 104.6]).range([951, 10]);

var svg = d3.select("#chart").append("svg")
  .attr("width", width)
  .attr("height", height)
  .attr("viewBox", `0 0 ${width} ${height}`);

// panel border goes on after the points
var drawPoints = function(data, color) {
  svg.append("g")
    .selectAll("circle")
    .data(data)
    .join("circle")
    .attr("cx", d => xScale(d[0]))
    .attr("cy", d => yScale(d[1]))
    .attr("r", 11.6)
    .attr("fill", color)
    .attr("fill-opacity", 0.5)
    .attr("stroke", "#000")
    .attr("stroke-opacity", 0.5)
    .attr("stroke-width", 2.2);
};

drawPoints(transform, colors.Transform);
drawPoints(protect, colors.Protect);
drawPoints(recover, colors.Recover);

// threshold lines
svg.append("line")
  .attr("x1", xScale(4)).attr("x2", xScale(4))
  .attr("y1", 5.6).attr("y2", 951)
  .attr("stroke", "#000")
  .attr("stroke-width", 3)
  .attr("stroke-dasharray", "3 8.38");
svg.append("line")
  .attr("x1", 192.5).attr("x2", 1194)
  .attr("y1", yScale(10)).attr("y2", yScale(10))
  .attr("stroke", "#000")
  .attr("stroke-width", 3)
  .attr("stroke-dasharray", "3 8.38");

// panel runs off the right of the picture, so no right side
svg.append("path")
  .attr("d", "M1194,9H183V951H1194")
  .attr("fill", "none")
  .attr("stroke", "#b3b3b3")
  .attr("stroke-width", 4);

// axes
var xAxis = svg.append("g")
  .attr("transform", "translate(0,951)")
  .call(d3.axisBottom(xScale).tickValues(xTicks).tickSize(12).tickPadding(7).tickFormat(d3.format("d")));
var yAxis = svg.append("g")
  .attr("transform", "translate(183,0)")
  .call(d3.axisLeft(yScale).tickValues(yTicks).tickSize(12).tickPadding(10).tickFormat(d3.format("d")));

[xAxis, yAxis].forEach(function(axis) {
  axis.select(".domain").remove();
  axis.selectAll(".tick line").attr("stroke", "#b3b3b3").attr("stroke-width", 2.5);
  axis.selectAll(".tick text")
    .attr("font-size", 36)
    .attr("font-family", "'Liberation Sans',Arial,sans-serif")
    .attr("fill", "#4d4d4d");
});

// axis titles
svg.append("text")
  .attr("x", 683).attr("y", 1047)
  .attr("text-anchor", "middle")
  .attr("font-size", 47)
  .text("Maximum Degree Heating Weeks");
svg.append("text")
  .attr("x", 689).attr("y", 1100)
  .attr("text-anchor", "middle")
  .attr("font-size", 47)
  .text("2014−2017");
svg.append("text")
  .attr("transform", "translate(50,486) rotate(-90)")
  .attr("text-anchor", "middle")
  .attr("font-size", 47.8)
  .text("% Coral cover");
svg.append("text")
  .attr("transform", "translate(103,480) rotate(-90)")
  .attr("text-anchor", "middle")
  .attr("font-size", 47.8)
  .text("(competitive + stress−tolerant)");

// legend
svg.append("text")
  .attr("x", 937).attr("y", 80)
  .attr("font-size", 45.4)
  .text("Strategy");

var legendY = d3.scalePoint().domain(strategies).range([124, 198]);
var legend = svg.append("g")
  .selectAll("g")
  .data(strategies)
  .join("g")
  .attr("transform", d => `translate(955,${legendY(d)})`);
legend.append("circle")
  .attr("r", 13)
  .attr("fill", d => colors[d])
  .attr("stroke", "#000")
  .attr("stroke-width", 2);
legend.append("text")
  .attr("x", 42)
  .attr("y", 13)
  .attr("font-size", 36.4)
  .text(d => d);
</script>
</body>
</html>
